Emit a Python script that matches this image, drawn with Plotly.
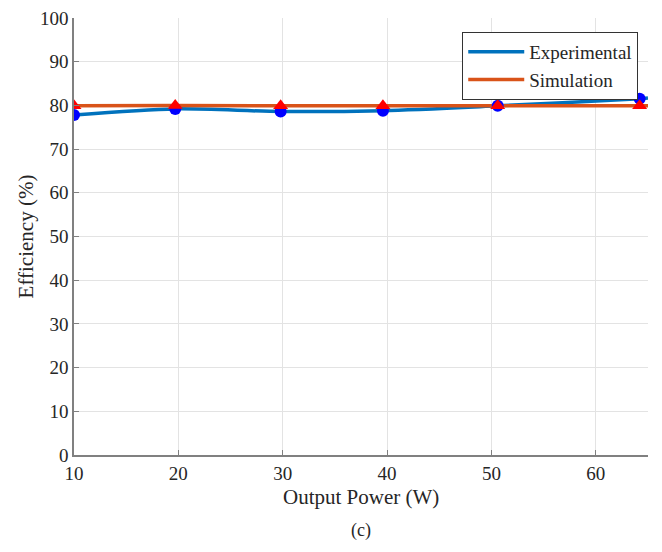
import plotly.graph_objects as go

power = [10, 19.7, 29.8, 39.6, 50.6, 64.2]
experimental = [77.8, 79.2, 78.6, 78.8, 79.9, 81.5]
simulation = [79.9, 80.0, 79.9, 79.9, 79.9, 79.9]

# line continues to the right edge of the axes
line_x = power + [65]
exp_line = experimental + [81.7]
sim_line = simulation + [79.9]

x_ticks = [10, 20, 30, 40, 50, 60]
y_ticks = [0, 10, 20, 30, 40, 50, 60, 70, 80, 90, 100]

FONT = "Liberation Serif"

fig = go.Figure()
fig.add_trace(go.Scatter(x=line_x, y=exp_line, mode="lines", name="Experimental",
                         line=dict(color="#0072BD", width=3.5, shape="spline", smoothing=0.8)))
fig.add_trace(go.Scatter(x=line_x, y=sim_line, mode="lines", name="Simulation",
                         line=dict(color="#D95319", width=3.5)))
fig.add_trace(go.Scatter(x=power, y=experimental, mode="markers", showlegend=False,
                         marker=dict(color="blue", size=12, symbol="circle")))
fig.add_trace(go.Scatter(x=power, y=simulation, mode="markers", showlegend=False,
                         marker=dict(color="red", size=13, symbol="triangle-up")))

axis_common = dict(showgrid=True, gridcolor="#e3e3e3", gridwidth=1, zeroline=False,
                   showline=True, linecolor="#808080", linewidth=1.5,
                   ticks="inside", ticklen=5, tickcolor="#808080", automargin=False,
                   tickfont=dict(family=FONT, size=19, color="#262626"))

fig.update_xaxes(range=[10, 65], tickvals=x_ticks, **axis_common)
fig.update_yaxes(range=[0, 100], tickvals=y_ticks, **axis_common,
                 title=dict(text="Efficiency (%)", font=dict(family=FONT, size=21, color="#262626"),
                            standoff=1))

fig.add_annotation(text="Output Power (W)", xref="paper", yref="paper", x=0.5, y=-0.096,
                   yanchor="middle", showarrow=False,
                   font=dict(family=FONT, size=21, color="#262626"))
fig.add_annotation(text="(c)", xref="paper", yref="paper", x=0.5, y=-0.172, yanchor="middle",
                   showarrow=False, font=dict(family=FONT, size=18, color="#262626"))

fig.update_layout(
    width=662, height=552,
    margin=dict(l=74, r=14, t=18, b=97),
    paper_bgcolor="white", plot_bgcolor="white",
    font=dict(family=FONT, color="#262626"),
    legend=dict(x=0.983, y=0.968, xanchor="right", yanchor="top",
                bgcolor="white", bordercolor="#333333", borderwidth=1,
                font=dict(family=FONT, size=19, color="#262626"),
                itemwidth=56, tracegroupgap=0),
    showlegend=True,
)

fig.write_html("out.html", config={"displayModeBar": False},
               post_script="document.body.style.margin='0';")
